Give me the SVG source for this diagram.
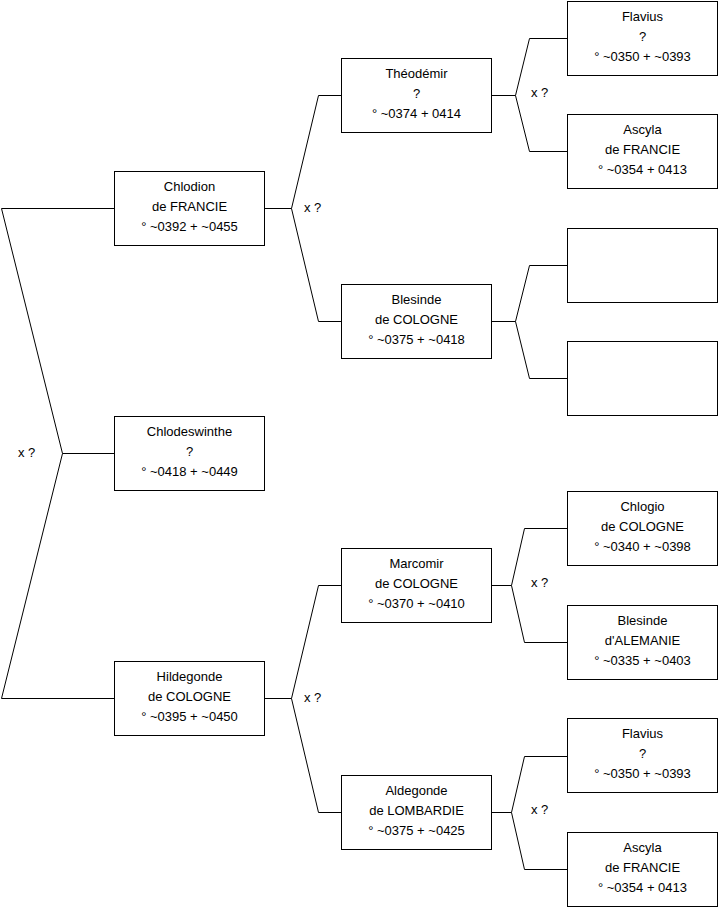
<svg xmlns="http://www.w3.org/2000/svg" width="719" height="908" viewBox="0 0 719 908">
<style>
.b{fill:#fff;stroke:#000;stroke-width:1}
.c{fill:none;stroke:#000;stroke-width:1}
text{font-family:"Liberation Sans",Arial,sans-serif;font-size:13px;fill:#000}
.t{text-anchor:middle}
</style>
<rect width="719" height="908" fill="#fff"/>
<g id="connectors">
<polyline class="c" points="114,208.5 1.5,208.5 62.5,453.5 1.5,698.5 114,698.5"/>
<line class="c" x1="62.5" y1="453.5" x2="114" y2="453.5"/>
<polyline class="c" points="265,208.5 291.5,208.5 318.5,95.5 341,95.5"/>
<polyline class="c" points="291.5,208.5 318.5,321.5 341,321.5"/>
<polyline class="c" points="265,698.5 291.5,698.5 318.5,585.5 341,585.5"/>
<polyline class="c" points="291.5,698.5 318.5,812.5 341,812.5"/>
<polyline class="c" points="492,95.5 515.5,95.5 529.5,38.5 567,38.5"/>
<polyline class="c" points="515.5,95.5 529.5,151.5 567,151.5"/>
<polyline class="c" points="492,321.5 515.5,321.5 529.5,265.5 567,265.5"/>
<polyline class="c" points="515.5,321.5 529.5,378.5 567,378.5"/>
<polyline class="c" points="492,585.5 511.5,585.5 524.5,528.5 567,528.5"/>
<polyline class="c" points="511.5,585.5 524.5,642.5 567,642.5"/>
<polyline class="c" points="492,812.5 511.5,812.5 524.5,756.5 567,756.5"/>
<polyline class="c" points="511.5,812.5 524.5,869.5 567,869.5"/>
<text x="18" y="457">x ?</text>
<text x="304" y="212">x ?</text>
<text x="304" y="702">x ?</text>
<text x="531" y="97">x ?</text>
<text x="531" y="587">x ?</text>
<text x="531" y="814">x ?</text>
</g>
<g id="chlodion"><rect class="b" x="114.5" y="171.5" width="150" height="74"/>
<text class="t" x="189.5" y="191">Chlodion</text><text class="t" x="189.5" y="211">de FRANCIE</text><text class="t" x="189.5" y="231">° ~0392 + ~0455</text></g>
<g id="chlodeswinthe"><rect class="b" x="114.5" y="416.5" width="150" height="74"/>
<text class="t" x="189.5" y="436">Chlodeswinthe</text><text class="t" x="189.5" y="456">?</text><text class="t" x="189.5" y="476">° ~0418 + ~0449</text></g>
<g id="hildegonde"><rect class="b" x="114.5" y="661.5" width="150" height="74"/>
<text class="t" x="189.5" y="681">Hildegonde</text><text class="t" x="189.5" y="701">de COLOGNE</text><text class="t" x="189.5" y="721">° ~0395 + ~0450</text></g>
<g id="theodemir"><rect class="b" x="341.5" y="58.5" width="150" height="74"/>
<text class="t" x="416.5" y="78">Théodémir</text><text class="t" x="416.5" y="98">?</text><text class="t" x="416.5" y="118">° ~0374 + 0414</text></g>
<g id="blesinde1"><rect class="b" x="341.5" y="284.5" width="150" height="74"/>
<text class="t" x="416.5" y="304">Blesinde</text><text class="t" x="416.5" y="324">de COLOGNE</text><text class="t" x="416.5" y="344">° ~0375 + ~0418</text></g>
<g id="marcomir"><rect class="b" x="341.5" y="548.5" width="150" height="74"/>
<text class="t" x="416.5" y="568">Marcomir</text><text class="t" x="416.5" y="588">de COLOGNE</text><text class="t" x="416.5" y="608">° ~0370 + ~0410</text></g>
<g id="aldegonde"><rect class="b" x="341.5" y="775.5" width="150" height="74"/>
<text class="t" x="416.5" y="795">Aldegonde</text><text class="t" x="416.5" y="815">de LOMBARDIE</text><text class="t" x="416.5" y="835">° ~0375 + ~0425</text></g>
<g id="flavius1"><rect class="b" x="567.5" y="1.5" width="150" height="74"/>
<text class="t" x="642.5" y="21">Flavius</text><text class="t" x="642.5" y="41">?</text><text class="t" x="642.5" y="61">° ~0350 + ~0393</text></g>
<g id="ascyla1"><rect class="b" x="567.5" y="114.5" width="150" height="74"/>
<text class="t" x="642.5" y="134">Ascyla</text><text class="t" x="642.5" y="154">de FRANCIE</text><text class="t" x="642.5" y="174">° ~0354 + 0413</text></g>
<g id="empty1"><rect class="b" x="567.5" y="228.5" width="150" height="74"/></g>
<g id="empty2"><rect class="b" x="567.5" y="341.5" width="150" height="74"/></g>
<g id="chlogio"><rect class="b" x="567.5" y="491.5" width="150" height="74"/>
<text class="t" x="642.5" y="511">Chlogio</text><text class="t" x="642.5" y="531">de COLOGNE</text><text class="t" x="642.5" y="551">° ~0340 + ~0398</text></g>
<g id="blesinde2"><rect class="b" x="567.5" y="605.5" width="150" height="74"/>
<text class="t" x="642.5" y="625">Blesinde</text><text class="t" x="642.5" y="645">d'ALEMANIE</text><text class="t" x="642.5" y="665">° ~0335 + ~0403</text></g>
<g id="flavius2"><rect class="b" x="567.5" y="718.5" width="150" height="74"/>
<text class="t" x="642.5" y="738">Flavius</text><text class="t" x="642.5" y="758">?</text><text class="t" x="642.5" y="778">° ~0350 + ~0393</text></g>
<g id="ascyla2"><rect class="b" x="567.5" y="832.5" width="150" height="74"/>
<text class="t" x="642.5" y="852">Ascyla</text><text class="t" x="642.5" y="872">de FRANCIE</text><text class="t" x="642.5" y="892">° ~0354 + 0413</text></g>
</svg>
